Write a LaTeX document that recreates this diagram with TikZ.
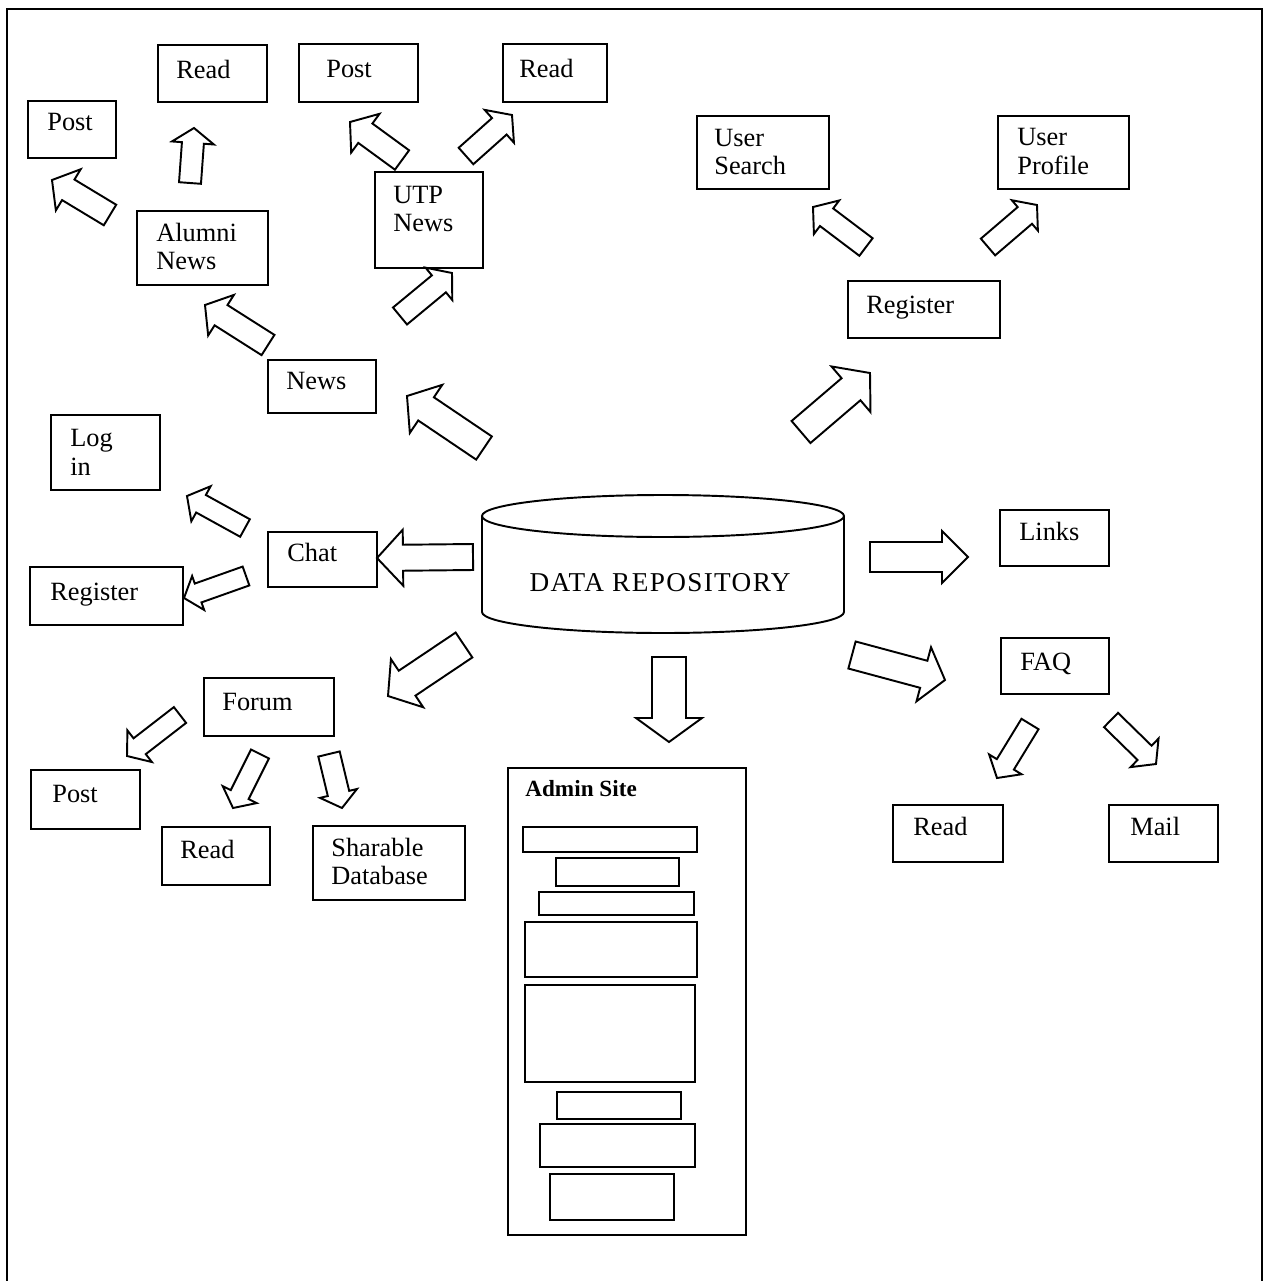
\documentclass[tikz,border=0pt]{standalone}
\usepackage{fontspec}
\setmainfont{Liberation Serif}
\usetikzlibrary{calc,fit}

\tikzset{
  box/.style={draw, line width=1.1pt, inner sep=0pt, fill=white},
  lbl/.style={anchor=base west, inner sep=0pt, font=\fontsize{15}{17}\selectfont},
  blockarr/.style={draw, line width=1.1pt, fill=white, line join=miter},
}

% block arrow: tail, tip, shaft half-width, head half-width, head length (in px)
\newcommand\blockarrow[5]{%
  \coordinate (ba-base) at ($(#2)!#5*0.02cm!(#1)$);
  \draw[blockarr]
    ($(#1)!#3*0.02cm!90:(#2)$) -- ($(ba-base)!#3*0.02cm!90:(#2)$)
    -- ($(ba-base)!#4*0.02cm!90:(#2)$) -- (#2)
    -- ($(ba-base)!#4*0.02cm!-90:(#2)$) -- ($(ba-base)!#3*0.02cm!-90:(#2)$)
    -- ($(#1)!#3*0.02cm!-90:(#2)$) -- cycle;}

\begin{document}
\begin{tikzpicture}[x=0.02cm,y=-0.02cm]
\useasboundingbox (0,0) rectangle (1269,1281);
\fill[white] (0,0) rectangle (1269,1281);

% outer frame (open at the bottom)
\draw[line width=1.1pt] (7,1281) -- (7,9) -- (1262,9) -- (1262,1281);

% ---------- boxes ----------
\node[box, fit={(158,45) (267,102)}]   (readA) {};
\node[box, fit={(28,101) (116,158)}]   (postA) {};
\node[box, fit={(299,44) (418,102)}]   (postU) {};
\node[box, fit={(503,44) (607,102)}]   (readU) {};
\node[box, fit={(137,211) (268,285)}]  (alumni) {};
\node[box, fit={(375,172) (483,268)}]  (utp) {};
\node[box, fit={(697,116) (829,189)}]  (usearch) {};
\node[box, fit={(998,116) (1129,189)}] (uprofile) {};
\node[box, fit={(848,281) (1000,338)}] (regR) {};
\node[box, fit={(268,360) (376,413)}]  (news) {};
\node[box, fit={(51,415) (160,490)}]   (login) {};
\node[box, fit={(268,532) (377,587)}]  (chat) {};
\node[box, fit={(30,567) (183,625)}]   (regL) {};
\node[box, fit={(1000,510) (1109,566)}] (links) {};
\node[box, fit={(1001,638) (1109,694)}] (faq) {};
\node[box, fit={(204,678) (334,736)}]  (forum) {};
\node[box, fit={(31,770) (140,829)}]   (postF) {};
\node[box, fit={(162,827) (270,885)}]  (readF) {};
\node[box, fit={(313,826) (465,900)}]  (share) {};
\node[box, fit={(893,805) (1003,862)}] (readQ) {};
\node[box, fit={(1109,805) (1218,862)}] (mail) {};

% admin site panel
\node[box, fit={(508,768) (746,1235)}] (admin) {};
\node[box, fit={(523,827) (697,852)}]  (adm1) {};
\node[box, fit={(556,858) (679,886)}]  (adm2) {};
\node[box, fit={(539,892) (694,915)}]  (adm3) {};
\node[box, fit={(525,922) (697,977)}]  (adm4) {};
\node[box, fit={(525,985) (695,1082)}] (adm5) {};
\node[box, fit={(557,1092) (681,1119)}] (adm6) {};
\node[box, fit={(540,1124) (695,1167)}] (adm7) {};
\node[box, fit={(550,1174) (674,1220)}] (adm8) {};

% ---------- labels ----------
\node[lbl] (readA-t) at (176,78) {Read};
\node[lbl] (postA-t) at (47,130) {Post};
\node[lbl] (postU-t) at (326,77) {Post};
\node[lbl] (readU-t) at (519,77) {Read};
\node[lbl] (alumni-t1) at (156,241) {Alumni};
\node[lbl] (alumni-t2) at (156,269) {News};
\node[lbl] (utp-t1) at (393,203) {UTP};
\node[lbl] (utp-t2) at (393,231) {News};
\node[lbl] (usearch-t1) at (714,146) {User};
\node[lbl] (usearch-t2) at (714,174) {Search};
\node[lbl] (uprofile-t1) at (1017,145) {User};
\node[lbl] (uprofile-t2) at (1017,174) {Profile};
\node[lbl] (regR-t) at (866,313) {Register};
\node[lbl] (news-t) at (286,389) {News};
\node[lbl] (login-t1) at (70,446) {Log};
\node[lbl] (login-t2) at (70,475) {in};
\node[lbl] (chat-t) at (287,561) {Chat};
\node[lbl] (regL-t) at (50,600) {Register};
\node[lbl] (links-t) at (1019,540) {Links};
\node[lbl] (faq-t) at (1020,670) {FAQ};
\node[lbl] (forum-t) at (222,710) {Forum};
\node[lbl] (postF-t) at (52,802) {Post};
\node[lbl] (readF-t) at (180,858) {Read};
\node[lbl] (share-t1) at (331,856) {Sharable};
\node[lbl] (share-t2) at (331,884) {Database};
\node[lbl] (readQ-t) at (913,835) {Read};
\node[lbl] (mail-t) at (1130,835) {Mail};
\node[lbl, font=\bfseries\fontsize{13.2}{15}\selectfont] (admin-t) at (525,796) {Admin Site};

% ---------- data repository cylinder ----------
\draw[line width=1.1pt, fill=white]
  (482,516) -- (482,612) arc[start angle=180, end angle=0, x radius=181, y radius=21]
  -- (844,516);
\draw[line width=1.1pt] (663,516) ellipse[x radius=181, y radius=21];
\node[inner sep=0pt, font=\fontsize{15.5}{18}\selectfont\addfontfeatures{LetterSpace=5.0}]
  (repo) at (660,583) {DATA REPOSITORY};

% ---------- arrow end points ----------
\coordinate (a1t) at (110,215);  \coordinate (a1h) at (52,180);
\coordinate (a2t) at (190,183);  \coordinate (a2h) at (194,128);
\coordinate (a3t) at (402,160);  \coordinate (a3h) at (350,122);
\coordinate (a4t) at (466,156);  \coordinate (a4h) at (512,115);
\coordinate (a5t) at (400,316);  \coordinate (a5h) at (452,273);
\coordinate (a6t) at (268,345);  \coordinate (a6h) at (205,305);
\coordinate (a7t) at (484,448);  \coordinate (a7h) at (407,396);
\coordinate (a8t) at (801,432);  \coordinate (a8h) at (870,373);
\coordinate (a9t) at (866,247);  \coordinate (a9h) at (813,207);
\coordinate (a10t) at (988,247); \coordinate (a10h) at (1037,205);
\coordinate (a11t) at (245,528); \coordinate (a11h) at (187,496);
\coordinate (a12t) at (246,576); \coordinate (a12h) at (184,598);
\coordinate (a13t) at (473,557); \coordinate (a13h) at (377,558);
\coordinate (a14t) at (464,645); \coordinate (a14h) at (388,696);
\coordinate (a15t) at (669,657); \coordinate (a15h) at (669,742);
\coordinate (a16t) at (870,557); \coordinate (a16h) at (968,557);
\coordinate (a17t) at (852,655); \coordinate (a17h) at (945,680);
\coordinate (a18t) at (1030,724); \coordinate (a18h) at (997,778);
\coordinate (a19t) at (1111,720); \coordinate (a19h) at (1156,764);
\coordinate (a20t) at (180,715); \coordinate (a20h) at (127,756);
\coordinate (a21t) at (260,754); \coordinate (a21h) at (233,808);
\coordinate (a22t) at (329,754); \coordinate (a22h) at (342,808);

% ---------- block arrows ----------
\blockarrow{a1t}{a1h}{12}{24}{19}
\blockarrow{a2t}{a2h}{11}{21}{15}
\blockarrow{a3t}{a3h}{12}{24}{19}
\blockarrow{a4t}{a4h}{11}{22}{17}
\blockarrow{a5t}{a5h}{11}{21}{17}
\blockarrow{a6t}{a6h}{12}{24}{19}
\blockarrow{a7t}{a7h}{14}{29}{23}
\blockarrow{a8t}{a8h}{14.5}{30}{25}
\blockarrow{a9t}{a9h}{11}{21}{17}
\blockarrow{a10t}{a10h}{11}{20}{16}
\blockarrow{a11t}{a11h}{10}{20}{16}
\blockarrow{a12t}{a12h}{10}{18}{15}
\blockarrow{a13t}{a13h}{13}{28}{26}
\blockarrow{a14t}{a14h}{15}{29}{23}
\blockarrow{a15t}{a15h}{17}{33}{24}
\blockarrow{a16t}{a16h}{15}{26}{26}
\blockarrow{a17t}{a17h}{14}{28}{22}
\blockarrow{a18t}{a18h}{10}{19}{16}
\blockarrow{a19t}{a19h}{10}{20}{16}
\blockarrow{a20t}{a20h}{10}{20}{16}
\blockarrow{a21t}{a21h}{10}{19}{15}
\blockarrow{a22t}{a22h}{11}{19}{15}
\end{tikzpicture}
\end{document}
